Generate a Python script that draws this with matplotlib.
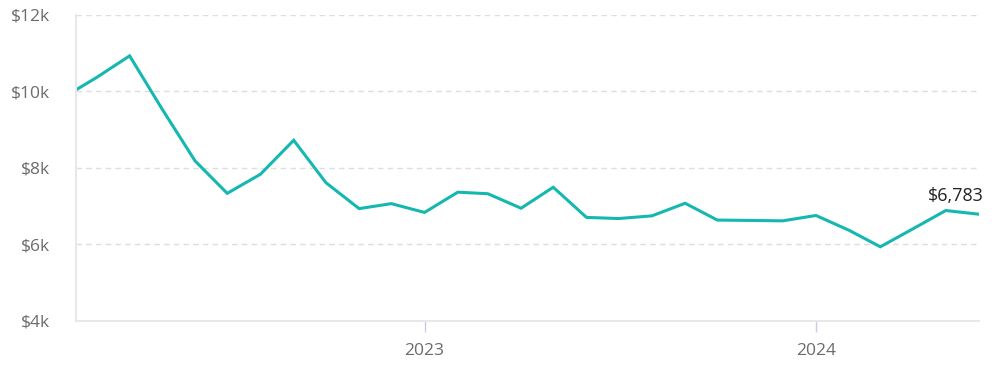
import pandas as pd
import matplotlib.pyplot as plt
from matplotlib.ticker import FuncFormatter

# monthly portfolio value
dates = pd.to_datetime(['2022-02-10'] + [f'{y}-{m:02d}-01' for y, m in
                        [(2022, m) for m in range(3, 13)] +
                        [(2023, m) for m in range(1, 13)] +
                        [(2024, m) for m in range(1, 7)]])
values = [10040, 10360, 10930, 9550, 8180, 7330, 7830, 8720, 7610, 6930,
          7060, 6830, 7360, 7320, 6940, 7490, 6700, 6670, 6740, 7070,
          6630, 6620, 6610, 6750, 6360, 5930, 6410, 6880, 6783]
year_ticks = pd.to_datetime(['2023-01-01', '2024-01-01'])
year_labels = ['2023', '2024']

plt.rcParams['font.family'] = ['Open Sans', 'DejaVu Sans']

fig = plt.figure(figsize=(9.96, 3.65), dpi=100)
ax = fig.add_axes([76 / 996, 1 - 320.5 / 365, (979 - 76) / 996, (320.5 - 15) / 365])

ax.plot(dates, values, color='#14b8b0', linewidth=2.2, solid_joinstyle='miter')
ax.set_xlim(dates[0], dates[-1])
ax.set_ylim(4000, 12000)

ax.set_yticks([4000, 6000, 8000, 10000, 12000])
ax.yaxis.set_major_formatter(FuncFormatter(lambda v, p: f'${v / 1000:.0f}k'))
ax.tick_params(axis='y', length=0, pad=18.5, labelsize=12.5, labelcolor='#6b6b6b')

ax.set_xticks(year_ticks)
ax.set_xticklabels(year_labels)
ax.tick_params(axis='x', length=8, width=1, color='#c8cee0', pad=8.5,
               labelsize=12.5, labelcolor='#6b6b6b')

ax.grid(axis='y', color='#dedede', linestyle=(0, (4, 3)), linewidth=1)
ax.set_axisbelow(True)
for side in ['top', 'right']:
    ax.spines[side].set_visible(False)
for side in ['left', 'bottom']:
    ax.spines[side].set_color('#e8e8ec')
    ax.spines[side].set_linewidth(1.5)

ax.annotate(f'${values[-1]:,}', (dates[-1], values[-1]), xytext=(-17, 13),
            textcoords='offset points', ha='center', va='center',
            fontsize=13, color='#222222')

fig.savefig('out.png', dpi=100)
